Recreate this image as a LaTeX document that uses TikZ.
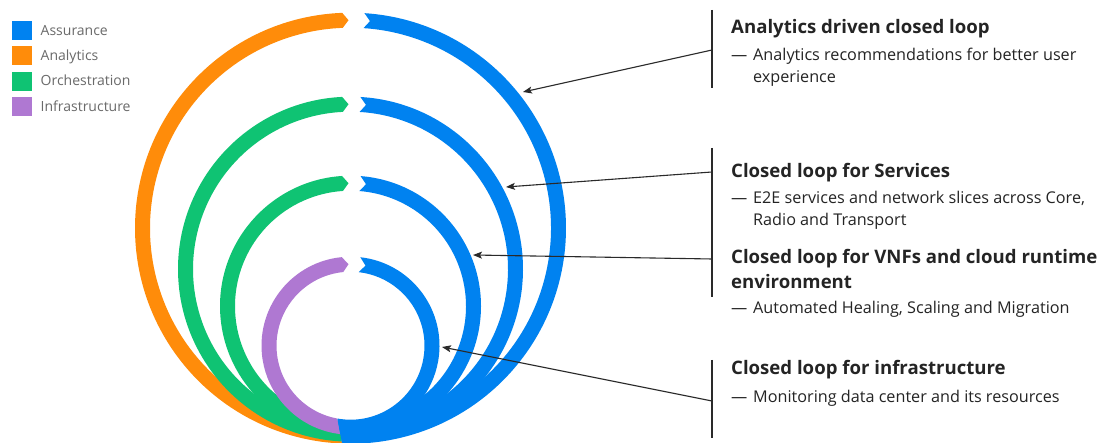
\documentclass[tikz,border=0pt]{standalone}
\usepackage{fontspec}
\setmainfont{Open Sans}
\usetikzlibrary{arrows.meta}

\definecolor{eblue}{HTML}{0082F0}
\definecolor{eorange}{HTML}{FF8C0A}
\definecolor{egreen}{HTML}{0FC373}
\definecolor{epurple}{HTML}{AF78D2}
\definecolor{etext}{HTML}{242424}
\definecolor{elegend}{HTML}{6A6A6A}
\definecolor{eline}{HTML}{2A2A2A}

% One closed loop: coloured left half ending in an arrow point at the top,
% blue right half starting with a notch at the top.
% #1 centre x, #2 centre y, #3 mid radius, #4 colour of left half, #5 x of notch corners
\newcommand{\loopring}[5]{%
  \pgfmathsetmacro\rgOut{#3+7.5}%
  \pgfmathsetmacro\rgIn{#3-7.5}%
  \pgfmathsetmacro\rgEnd{90+asin((#1-342.5)/#3)}%
  \pgfmathsetmacro\rgTip{90+asin((#1-348.5)/#3)}%
  \pgfmathsetmacro\rgNotch{90-asin((#5-#1)/#3)}%
  \pgfmathsetmacro\rgVert{90-asin((#5+6-#1)/#3)}%
  \begin{scope}
    \clip (-10,-10) -- (343.9,-10) -- (330.5,60) -- (1200,60) -- (1200,500) -- (-10,500) -- cycle;
    \fill[#4, shift={(#1,#2)}] (\rgTip:#3) -- (\rgEnd:\rgOut)
      arc[start angle=\rgEnd, end angle=285, radius=\rgOut pt] -- (285:\rgIn)
      arc[start angle=285, end angle=\rgEnd, radius=\rgIn pt] -- cycle;
  \end{scope}
  \begin{scope}
    \clip (-10,60) -- (330.5,60) -- (343.9,-10) -- (1200,-10) -- (1200,500) -- (-10,500) -- cycle;
    \fill[eblue, shift={(#1,#2)}] (\rgNotch:\rgOut)
      arc[start angle=\rgNotch, end angle=-100, radius=\rgOut pt] -- (-100:\rgIn)
      arc[start angle=-100, end angle=\rgNotch, radius=\rgIn pt] -- (\rgVert:#3) -- cycle;
  \end{scope}
}

\tikzset{
  title/.style={font=\fontsize{18.6}{25}\selectfont\bfseries, text=etext, inner sep=0pt, anchor=base west},
  body/.style={font=\fontsize{16.2}{22}\selectfont, text=etext, inner sep=0pt, anchor=base west},
  legendtext/.style={font=\fontsize{14}{16}\selectfont, text=elegend, inner sep=0pt, anchor=base west},
  swatch/.style={minimum width=20pt, minimum height=19pt, inner sep=0pt, anchor=north west},
  bar/.style={draw=eline, line width=1.2pt},
  pointer/.style={draw=eline, line width=1.1pt, -{Stealth[length=9pt, width=7pt, inset=2pt]}},
}

\newcommand{\dashline}[1]{\makebox[22pt][l]{—}#1}

\begin{document}
\begin{tikzpicture}[x=1pt, y=1pt]
  \fill[white] (0,0) rectangle (1107,443);
  \useasboundingbox (0,0) rectangle (1107,443);

  % nested loops, outermost first
  \loopring{350.5}{214.8}{208}{eorange}{364}
  \loopring{350.5}{173.8}{165}{egreen}{360}
  \loopring{350.5}{136.8}{123}{egreen}{360}
  \loopring{350.5}{97.3}{81.5}{epurple}{359.5}

  % legend
  \node[swatch, fill=eblue]    (swA) at (12,422) {};
  \node[swatch, fill=eorange]  (swB) at (12,397) {};
  \node[swatch, fill=egreen]   (swC) at (12,371.5) {};
  \node[swatch, fill=epurple]  (swD) at (12,346) {};
  \node[legendtext] (lgA) at (40.5,407.5) {Assurance};
  \node[legendtext] (lgB) at (40.5,382.5) {Analytics};
  \node[legendtext] (lgC) at (40.5,357) {Orchestration};
  \node[legendtext] (lgD) at (40.5,331.5) {Infrastructure};

  % descriptions
  \node[title] (t1) at (731,409) {Analytics driven closed loop};
  \node[body]  (d1) at (731,382) {\begin{tabular}[t]{@{}l@{}}\dashline{Analytics recommendations for better user}\\\hspace*{22pt}experience\end{tabular}};
  \node[title] (t2) at (731,265) {Closed loop for Services};
  \node[body]  (d2) at (731,239) {\begin{tabular}[t]{@{}l@{}}\dashline{E2E services and network slices across Core,}\\\hspace*{22pt}Radio and Transport\end{tabular}};
  \node[title] (t3) at (731,179) {\begin{tabular}[t]{@{}l@{}}Closed loop for VNFs and cloud runtime\\environment\end{tabular}};
  \node[body]  (d3) at (731,129) {\dashline{Automated Healing, Scaling and Migration}};
  \node[title] (t4) at (731,68) {Closed loop for infrastructure};
  \node[body]  (d4) at (731,40) {\dashline{Monitoring data center and its resources}};

  % bars beside the descriptions
  \coordinate (b1top) at (712,433);
  \coordinate (b1bot) at (712,355);
  \coordinate (b2top) at (712,295);
  \coordinate (b2bot) at (712,146);
  \coordinate (b3top) at (712,83);
  \coordinate (b3bot) at (712,5);
  \draw[bar] (b1top) -- (b1bot);
  \draw[bar] (b2top) -- (b2bot);
  \draw[bar] (b3top) -- (b3bot);

  % pointers from the bars to the loops
  \coordinate (p1) at (712,393);
  \coordinate (p2) at (712,271);
  \coordinate (p3) at (712,184);
  \coordinate (p4) at (712,42);
  \coordinate (h1) at (523,351);
  \coordinate (h2) at (506,256);
  \coordinate (h3) at (473,188);
  \coordinate (h4) at (442,96);
  \draw[pointer] (p1) -- (h1);
  \draw[pointer] (p2) -- (h2);
  \draw[pointer] (p3) -- (h3);
  \draw[pointer] (p4) -- (h4);
\end{tikzpicture}
\end{document}
